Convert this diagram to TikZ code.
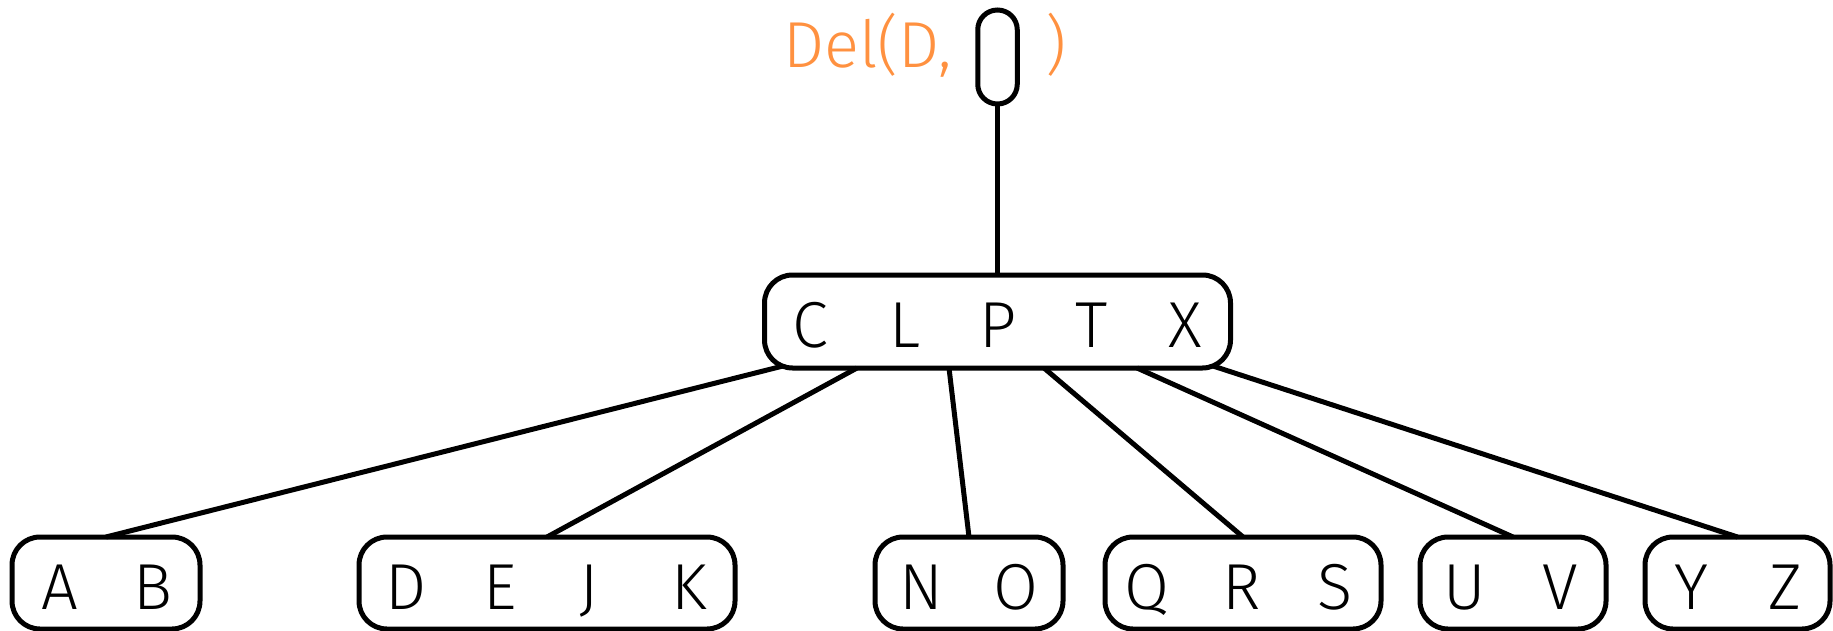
\documentclass[tikz,border=0pt]{standalone}
\usepackage{fontspec}
\setmainfont{Fira Sans}[UprightFont={* Light}]
\definecolor{delorange}{RGB}{255,145,64}
\begin{document}
\begin{tikzpicture}[x=1pt,y=-1pt,
  box/.style={draw, line width=5pt, rounded corners=28pt, inner sep=0pt, outer sep=0pt, minimum height=92pt},
  key/.style={anchor=base, inner sep=0pt, font=\fontsize{65}{78}\selectfont},
  link/.style={line width=5pt}]
\useasboundingbox (0,0) rectangle (1833,631);
% top call
\node[key, anchor=base east, text=delorange] (del) at (952,68) {Del(D,};
\node[box, minimum width=39.5pt, minimum height=94pt, rounded corners=19.7pt] (hole) at (997.5,57) {};
\node[key, text=delorange] (close) at (1056,68) {)};
% root
\node[box, minimum width=466pt, minimum height=93pt] (root) at (997.5,321.5) {};
\node[key] (kC) at (810,347) {C};
\node[key] (kL) at (905,347) {L};
\node[key] (kP) at (998.5,347) {P};
\node[key] (kT) at (1091.5,347) {T};
\node[key] (kX) at (1185,347) {X};
% leaves
\node[box, minimum width=188pt] (ab) at (106,583) {};
\node[box, minimum width=376pt] (dejk) at (547,583) {};
\node[box, minimum width=188pt] (no) at (969,583) {};
\node[box, minimum width=276pt] (qrs) at (1243,583) {};
\node[box, minimum width=186pt] (uv) at (1513,583) {};
\node[box, minimum width=185pt] (yz) at (1737.5,583) {};
\node[key] (kA) at (59.5,609) {A};
\node[key] (kB) at (153,609) {B};
\node[key] (kD) at (406.5,609) {D};
\node[key] (kE) at (500.5,609) {E};
\node[key] (kJ) at (589,609) {J};
\node[key] (kK) at (689,609) {K};
\node[key] (kN) at (921.5,609) {N};
\node[key] (kO) at (1016,609) {O};
\node[key] (kQ) at (1146.5,609) {Q};
\node[key] (kR) at (1242,609) {R};
\node[key] (kS) at (1335,609) {S};
\node[key] (kU) at (1465,609) {U};
\node[key] (kV) at (1560.5,609) {V};
\node[key] (kY) at (1691,609) {Y};
\node[key] (kZ) at (1785,609) {Z};
% pointer positions on root
\coordinate (r0) at (783,366);
\coordinate (r1) at (857,368);
\coordinate (r2) at (949,368);
\coordinate (r3) at (1044,368);
\coordinate (r4) at (1137,368);
\coordinate (r5) at (1213,366);
% links
\draw[link] (hole.south) -- (root.north);
\draw[link] (r0) -- (ab.north);
\draw[link] (r1) -- (dejk.north);
\draw[link] (r2) -- (no.north);
\draw[link] (r3) -- (qrs.north);
\draw[link] (r4) -- (uv.north);
\draw[link] (r5) -- (yz.north);
\end{tikzpicture}
\end{document}
